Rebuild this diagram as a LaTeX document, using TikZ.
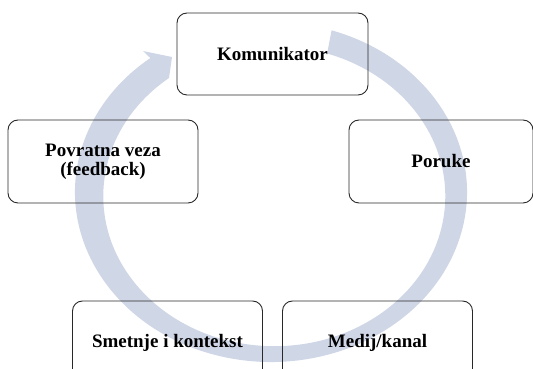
\documentclass[tikz,border=0pt]{standalone}
\usepackage{fontspec}
\setmainfont{Liberation Serif}
\definecolor{cyclecol}{RGB}{207,214,230}
\definecolor{boxline}{RGB}{40,40,40}
\begin{document}
\begin{tikzpicture}[x=1pt,y=1pt,
	phase/.style={
		draw=boxline, line width=0.9pt, rounded corners=10pt,
		minimum width=190, minimum height=83, align=center,
		font=\fontsize{19}{19}\selectfont\bfseries
	}]
	\useasboundingbox (0,0) rectangle (533,369);
	
	% Circular arrow behind the boxes
	\begin{scope}[shift={(271,177)}]
		\fill[cyclecol] (72:196 and 170) arc[start angle=72, end angle=-232, x radius=196, y radius=170]
			-- (-128,141) -- (-99,135) -- (-102,114)
			arc[start angle=-232, end angle=72, x radius=171, y radius=150] -- cycle;
	\end{scope}
	
	% Boxes
	\node[phase, minimum width=191, minimum height=82] (komunikator) at (272.5,315) {Komunikator};
	\node[phase, minimum width=184] (poruke) at (441,207.5) {Poruke};
	\node[phase] (medij) at (377.5,26.5) {Medij/kanal};
	\node[phase] (smetnje) at (167.5,26.5) {Smetnje i kontekst};
	\node[phase] (povratna) at (103,207.5) {Povratna veza\\(feedback)};
\end{tikzpicture}
\end{document}
